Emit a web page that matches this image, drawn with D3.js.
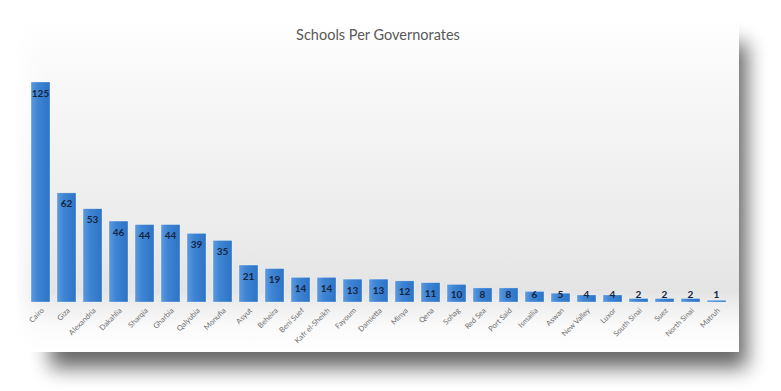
<!DOCTYPE html>
<html>
<head>
<meta charset="utf-8">
<script src="https://cdn.jsdelivr.net/npm/d3@7/dist/d3.min.js"></script>
<style>
  html, body { margin: 0; padding: 0; background: #ffffff; }
  svg { display: block; }
</style>
</head>
<body>
<svg id="chart" width="781" height="391"></svg>
<script>
const title = "Schools Per Governorates";
const categories = ["Cairo","Giza","Alexandria","Dakahlia","Sharqia","Gharbia","Qalyubia","Monufia","Asyut","Beheira","Beni Suef","Kafr el-Sheikh","Fayoum","Damietta","Minya","Qena","Sohag","Red Sea","Port Said","Ismailia","Aswan","New Valley","Luxor","South Sinai","Suez","North Sinai","Matruh"];
const values = [125,62,53,46,44,44,39,35,21,19,14,14,13,13,12,11,10,8,8,6,5,4,4,2,2,2,1];

const svg = d3.select("#chart");
const defs = svg.append("defs");

// shadow filter
const f = defs.append("filter").attr("id","shadow").attr("x","-20%").attr("y","-20%").attr("width","140%").attr("height","150%");
f.append("feGaussianBlur").attr("in","SourceAlpha").attr("stdDeviation",10).attr("result","b");
f.append("feOffset").attr("in","b").attr("dx",8).attr("dy",12).attr("result","o");
f.append("feComponentTransfer").attr("in","o").append("feFuncA").attr("type","linear").attr("slope",0.6);

const bg = defs.append("linearGradient").attr("id","bg").attr("x1",0).attr("y1",0).attr("x2",0).attr("y2",1);
[["0%","#ffffff"],["20%","#f8f8f8"],["65%","#ebebeb"],["82%","#e4e4e4"],["86%","#eeeeee"],["92%","#fafafa"],["100%","#ffffff"]]
  .forEach(s => bg.append("stop").attr("offset",s[0]).attr("stop-color",s[1]));

const bgH = defs.append("linearGradient").attr("id","bgH").attr("x1",0).attr("y1",0).attr("x2",1).attr("y2",0);
[["0%","#ffffff",0.9],["4%","#ffffff",0.0],["100%","#ffffff",0]]
  .forEach(s => bgH.append("stop").attr("offset",s[0]).attr("stop-color",s[1]).attr("stop-opacity",s[2]));

const barG = defs.append("linearGradient").attr("id","barG").attr("x1",0).attr("y1",0).attr("x2",1).attr("y2",0);
[["0%","#5c9ae0"],["35%","#3f85d4"],["100%","#2e74c6"]]
  .forEach(s => barG.append("stop").attr("offset",s[0]).attr("stop-color",s[1]));

// card
const card = {x:17, y:17, w:722, h:335};
svg.append("rect").attr("x",card.x+25).attr("y",card.y+14).attr("width",card.w-25).attr("height",card.h-10)
  .attr("fill","#000").attr("filter","url(#shadow)");
svg.append("rect").attr("x",card.x).attr("y",card.y).attr("width",card.w).attr("height",card.h).attr("fill","url(#bg)");
svg.append("rect").attr("x",card.x).attr("y",card.y).attr("width",card.w).attr("height",card.h).attr("fill","url(#bgH)");

svg.append("text").attr("x",378).attr("y",40).attr("text-anchor","middle")
  .attr("font-family","Lato, 'Open Sans', sans-serif").attr("font-size",14.5).attr("fill","#595959")
  .text(title);

const x = d3.scaleBand().domain(categories).range([27.5, 729.5]).paddingInner(0.27).paddingOuter(0.135);
const y = d3.scaleLinear().domain([0,125]).range([302,82]);

const g = svg.append("g");
g.selectAll("rect.bar").data(values).join("rect").attr("class","bar")
  .attr("x",(d,i)=>x(categories[i])).attr("width",x.bandwidth())
  .attr("y",d=>y(d)).attr("height",d=>y(0)-y(d))
  .attr("fill","url(#barG)").attr("stroke","#ffffff").attr("stroke-opacity",0.5).attr("stroke-width",0.6);

g.selectAll("text.val").data(values).join("text").attr("class","val")
  .attr("x",(d,i)=>x(categories[i])+x.bandwidth()/2)
  .attr("y",d=>Math.min(y(d)+11, 294)+3.5)
  .attr("text-anchor","middle").attr("font-family","Lato, 'Open Sans', sans-serif")
  .attr("font-weight","bold").attr("font-size",10).attr("fill","#14253f")
  .text(d=>d);

const axis = d3.axisBottom(x).tickSize(0).tickPadding(0);
const ax = svg.append("g").attr("transform","translate(0,302)").call(axis);
ax.select(".domain").remove();
ax.selectAll("text")
  .attr("font-family","Lato, 'Open Sans', sans-serif").attr("font-size",7.5).attr("fill","#6e6e6e")
  .attr("text-anchor","end").attr("dy",0).attr("y",0)
  .attr("transform","translate(4,9) rotate(-45)");
</script>
</body>
</html>
